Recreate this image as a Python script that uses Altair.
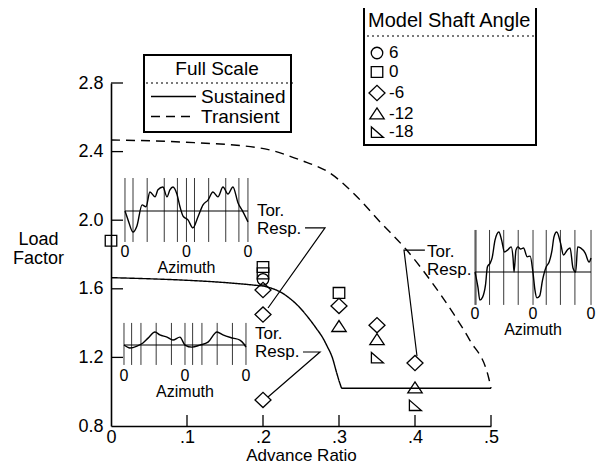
import altair as alt
import pandas as pd

FONT = "Liberation Sans"

# ---------------- data ----------------
# Model shaft angle test points
pt_ratio = [0.0, 0.2, 0.2, 0.2, 0.2, 0.2, 0.2, 0.3, 0.3, 0.3, 0.35, 0.35, 0.35, 0.4, 0.4, 0.4]
pt_load = [1.88, 1.727, 1.69, 1.655, 1.593, 1.45, 0.952, 1.576, 1.50, 1.38, 1.388, 1.303, 1.20, 1.167, 1.022, 0.922]
pt_angle = ["0", "0", "0", "6", "-6", "-6", "-6", "0", "-6", "-12", "-6", "-12", "-18", "-6", "-12", "-18"]
angle_order = ["6", "0", "-6", "-12", "-18"]

# Full-scale boundaries
sus_ratio = [0.0, 0.2, 0.21, 0.225, 0.235, 0.245, 0.262, 0.27, 0.278, 0.285, 0.291, 0.297, 0.301, 0.304, 0.5]
sus_load = [1.665, 1.616, 1.605, 1.576, 1.545, 1.506, 1.418, 1.37, 1.319, 1.26, 1.202, 1.109, 1.051, 1.02, 1.02]
tr_ratio = [0.0, 0.091, 0.196, 0.249, 0.288, 0.324, 0.354, 0.389, 0.42, 0.45, 0.472, 0.497, 0.5]
tr_load = [2.468, 2.456, 2.421, 2.351, 2.275, 2.135, 1.99, 1.826, 1.651, 1.459, 1.301, 1.08, 1.02]
series_order = ["Sustained", "Transient"]

# torsional response traces (azimuth deg, normalised response)
w1_az = [0, 18, 47, 70, 100, 123, 146, 176, 193, 222, 246, 263, 281, 304, 322, 340, 369, 398, 427, 457,
         486, 515, 544, 574, 603, 632, 662, 691, 720]
w1_r = [0, -0.28, -0.66, -0.47, 0.19, 0.13, 0.59, 0.44, 0.66, 0.75, 0.44, 0.66, 0.75, 0.53, 0.13, -0.16,
        -0.28, -0.53, -0.19, 0.19, 0.34, 0.59, 0.44, 0.75, 0.53, 0.75, 0.25, -0.03, -0.34]
w2_az = [0, 35, 77, 112, 142, 183, 212, 254, 289, 330, 360, 401, 448, 496, 549, 584, 643, 684, 708, 720]
w2_r = [0, -0.14, -0.05, 0.1, 0.33, 0.62, 0.48, 0.38, 0.24, 0.38, 0, -0.1, 0, 0.14, 0.62, 0.48, 0.33,
        0.24, 0.05, -0.1]
w3_az = [0, 18, 30, 47, 65, 77, 94, 106, 124, 148, 165, 183, 201, 224, 236, 242, 254, 266, 283, 301, 324,
         342, 360, 372, 384, 401, 419, 442, 460, 478, 490, 507, 531, 549, 572, 590, 608, 625, 637, 655,
         684, 708, 720]
w3_r = [0, -0.41, -0.76, -0.68, -0.35, 0.14, 0.24, 0.38, 0.86, 1.08, 0.86, 0.54, 0.59, 0.68, 0.38, 0,
        0.59, 0.68, 0.62, 0.65, 0.41, 0.43, -0.03, -0.49, -0.70, -0.65, -0.22, 0.14, 0.27, 0.59, 0.95,
        1.08, 0.78, 0.46, 0.59, 0.65, 0.11, 0, 0.68, 0.65, 0.51, 0.27, 0.38]
v1_az = [0, 47, 130, 230, 307, 360, 407, 490, 590, 667, 720]
v2_az = [0, 45, 100, 190, 280, 360, 405, 460, 550, 640, 720]
v3_az = [0, 6, 90, 178, 268, 360, 442, 530, 620, 720]
edge_marks = [0, 720]

# inset placement in chart units (advance ratio, load factor)
insets = [
    dict(name="a", x0=0.0184, w=0.1618, base=2.054, amp=0.1866, top=2.246, bottom=1.873,
         zero_y=1.788, az=w1_az, r=w1_r, v=v1_az),
    dict(name="b", x0=0.0171, w=0.1605, base=1.272, amp=0.1224, top=1.401, bottom=1.156,
         zero_y=1.065, az=w2_az, r=w2_r, v=v2_az),
    dict(name="c", x0=0.4790, w=0.1526, base=1.698, amp=0.2157, top=1.943, bottom=1.506,
         zero_y=1.426, az=w3_az, r=w3_r, v=v3_az),
]

# "Tor. Resp." call-outs
lead_a_ratio = [0.2553, 0.2816, 0.2066]
lead_a_load = [1.955, 1.955, 1.488]
lead_b_ratio = [0.2526, 0.275, 0.2066]
lead_b_load = [1.2315, 1.2315, 0.969]
lead_c_ratio = [0.413, 0.3855, 0.4026]
lead_c_load = [1.826, 1.826, 1.208]
note_text = ["Tor.\nResp.", "Tor.\nResp.", "Tor.\nResp."]
note_ratio = [0.192, 0.1895, 0.4158]
note_load = [2.024, 1.3065, 1.785]

x_ticks = [0.1, 0.2, 0.3, 0.4, 0.5]
y_ticks = [1.2, 1.6, 2.0, 2.4, 2.8]
x_labels = [0, 0.1, 0.2, 0.3, 0.4, 0.5]
y_labels = [0.8, 1.2, 1.6, 2.0, 2.4, 2.8]

# ---------------- tables ----------------
pts_df = pd.DataFrame({"ratio": pt_ratio, "load": pt_load, "angle": pt_angle})
curve_df = pd.DataFrame({
    "ratio": sus_ratio + tr_ratio,
    "load": sus_load + tr_load,
    "series": ["Sustained"] * len(sus_ratio) + ["Transient"] * len(tr_ratio),
    "idx": list(range(len(sus_ratio))) + list(range(len(tr_ratio))),
})

wave_rows, vline_rows, base_rows, lab_rows = [], [], [], []
for ins in insets:
    for i, (a, r) in enumerate(zip(ins["az"], ins["r"])):
        wave_rows.append(dict(inset=ins["name"], idx=i, ratio=ins["x0"] + a / 720 * ins["w"],
                              load=ins["base"] + r * ins["amp"]))
    for a in ins["v"]:
        vline_rows.append(dict(ratio=ins["x0"] + a / 720 * ins["w"], load=ins["top"], bottom=ins["bottom"]))
    base_rows.append(dict(ratio=ins["x0"], r1=ins["x0"] + ins["w"], load=ins["base"]))
    for a in edge_marks:
        lab_rows.append(dict(ratio=ins["x0"] + a / 720 * ins["w"], load=ins["zero_y"], text="0"))
    lab_rows.append(dict(ratio=ins["x0"] + ins["w"] / 2, load=ins["zero_y"], text="0\nAzimuth"))
wave_df = pd.DataFrame(wave_rows)
vline_df = pd.DataFrame(vline_rows)
base_df = pd.DataFrame(base_rows)
lab_df = pd.DataFrame(lab_rows)

lead_df = pd.DataFrame({
    "ratio": lead_a_ratio + lead_b_ratio + lead_c_ratio,
    "load": lead_a_load + lead_b_load + lead_c_load,
    "lead": ["a"] * 3 + ["b"] * 3 + ["c"] * 3,
    "idx": [0, 1, 2] * 3,
})
note_df = pd.DataFrame({"ratio": note_ratio, "load": note_load, "text": note_text})
xt_df = pd.DataFrame({"ratio": x_ticks})
yt_df = pd.DataFrame({"load": y_ticks})

# ---------------- scales / axes ----------------
xs = alt.Scale(domain=[0, 0.5], nice=False, zero=False)
ys = alt.Scale(domain=[0.8, 2.8], nice=False, zero=False)

x_axis = alt.Axis(values=x_labels, ticks=False, grid=False, domainWidth=1.6, domainColor="black",
                  labelExpr="datum.value == 0 ? '0' : replace(format(datum.value, '.1f'), '0.', '.')",
                  labelFontSize=18, labelPadding=2, labelFlush=False, labelOverlap=False,
                  title="Advance Ratio", titleFontSize=17, titleFontWeight="normal",
                  titleBaseline="bottom", titleY=38)
y_axis = alt.Axis(values=y_labels, format=".1f", ticks=False, grid=False, domainWidth=1.6,
                  domainColor="black", labelFontSize=18, labelPadding=8, labelFlush=False,
                  labelOverlap=False, title=["Load", "Factor"], titleAngle=0, titleAlign="center",
                  titleBaseline="top", titleX=-73, titleY=147, titleFontSize=18,
                  titleFontWeight="normal", titleLineHeight=19)


def X(field="ratio"):
    return alt.X(f"{field}:Q", scale=xs, axis=x_axis)


def Y(field="load"):
    return alt.Y(f"{field}:Q", scale=ys, axis=y_axis)


shape_paths = [
    "M0.72,0 A0.72,0.72 0 1,1 -0.72,0 A0.72,0.72 0 1,1 0.72,0 Z",
    "M-0.72,-0.68 L0.72,-0.68 L0.72,0.68 L-0.72,0.68 Z",
    "M-1,0 L0,-0.95 L1,0 L0,0.95 Z",
    "M-0.9,0.62 L0.9,0.62 L0,-0.75 Z",
    "M-0.7,-0.62 L-0.7,0.68 L0.8,0.68 Z",
]

# ---------------- layers ----------------
ytick_layer = alt.Chart(yt_df).mark_rule(color="black", strokeWidth=1.3).encode(
    y=Y(), x=alt.value(0), x2=alt.value(12))
xtick_layer = alt.Chart(xt_df).mark_rule(color="black", strokeWidth=1.3).encode(
    x=X(), y=alt.value(343), y2=alt.value(332))

curves = alt.Chart(curve_df).mark_line(color="black", strokeWidth=1.4, interpolate="monotone").encode(
    x=X(), y=Y(), order="idx:Q",
    strokeDash=alt.StrokeDash(
        "series:N",
        scale=alt.Scale(domain=series_order, range=[[1, 0], [9, 6]]),
        legend=alt.Legend(title="Full Scale", orient="none", legendX=33, legendY=-28,
                          titleAnchor="middle", symbolType="M-1,0 L5,0", symbolSize=225,
                          symbolStrokeWidth=1.3, symbolStrokeColor="black", labelFontSize=19,
                          titleFontSize=19, titleFontWeight="normal", padding=5, titlePadding=8,
                          rowPadding=-2, labelOffset=33, strokeColor="black")),
)

vlines = alt.Chart(vline_df).mark_rule(color="#222", strokeWidth=0.9).encode(
    x=X(), y=Y(), y2="bottom:Q")
baselines = alt.Chart(base_df).mark_rule(color="black", strokeWidth=1.1).encode(
    x=X(), x2="r1:Q", y=Y())
waves = alt.Chart(wave_df).mark_line(color="black", strokeWidth=1.4, interpolate="monotone").encode(
    x=X(), y=Y(), detail="inset:N", order="idx:Q")
inset_labels = alt.Chart(lab_df).mark_text(font=FONT, fontSize=16, color="black", baseline="alphabetic",
                                           align="center", lineBreak="\n", lineHeight=16.5).encode(
    x=X(), y=Y(), text="text:N")

leaders = alt.Chart(lead_df).mark_line(color="black", strokeWidth=1.2).encode(
    x=X(), y=Y(), detail="lead:N", order="idx:Q")
notes = alt.Chart(note_df).mark_text(font=FONT, fontSize=17, color="black", baseline="alphabetic",
                                     align="left", lineBreak="\n", lineHeight=17.5).encode(
    x=X(), y=Y(), text="text:N")

sep_full = alt.Chart(xt_df).mark_rule(color="#777", strokeDash=[2, 3], strokeWidth=1).encode(
    x=alt.value(35), x2=alt.value(182), y=alt.value(0))
sep_shaft = alt.Chart(xt_df).mark_rule(color="#777", strokeDash=[2, 3], strokeWidth=1).encode(
    x=alt.value(256), x2=alt.value(426), y=alt.value(-47))

points = alt.Chart(pts_df).mark_point(filled=False, size=256, strokeWidth=1.3, color="black",
                                      opacity=1).encode(
    x=X(), y=Y(),
    shape=alt.Shape("angle:N", scale=alt.Scale(domain=angle_order, range=shape_paths),
                    legend=alt.Legend(title="Model Shaft Angle", orient="none", legendX=253,
                                      legendY=-76, symbolSize=256, symbolStrokeWidth=1.3,
                                      symbolStrokeColor="black", labelFontSize=17, titleFontSize=20,
                                      titleFontWeight="normal", padding=4, titlePadding=13,
                                      rowPadding=1, labelOffset=3, strokeColor="black")),
)

chart = alt.layer(
    ytick_layer, xtick_layer, curves, vlines, baselines, waves, inset_labels, leaders, notes,
    sep_full, sep_shaft, points,
).resolve_legend(shape="independent", strokeDash="independent").properties(
    width=380, height=343,
    padding={"left": 103, "top": 75, "right": 106, "bottom": 38},
    autosize=alt.AutoSizeParams(type="none"),
).configure(font=FONT).configure_view(stroke=None).configure_axis(
    labelFont=FONT, titleFont=FONT, labelColor="black", titleColor="black"
).configure_legend(
    labelFont=FONT, titleFont=FONT, labelColor="black", titleColor="black", strokeWidth=2
)

chart.save("out.html", embed_options={"renderer": "svg", "actions": False})
